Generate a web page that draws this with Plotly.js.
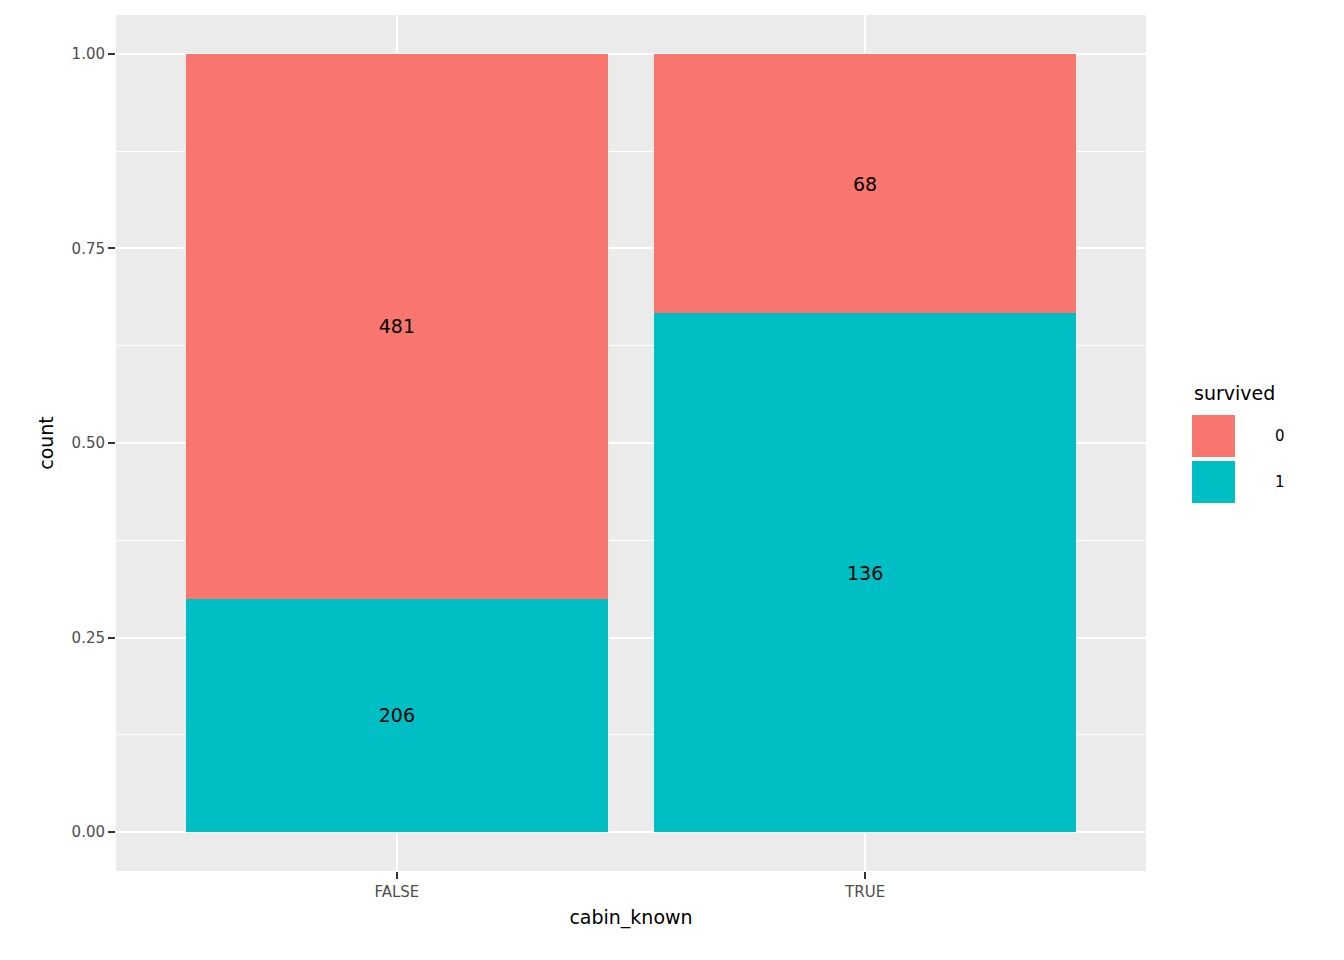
<!DOCTYPE html>
<html>
<head>
<meta charset="utf-8">
<script src="https://cdn.plot.ly/plotly-3.0.1.min.js"></script>
<style>body{margin:0;background:#fff}</style>
</head>
<body>
<div id="myChart" style="width:1344px;height:960px"></div>
<script>
const categories = ['FALSE', 'TRUE'];
const died = [481, 68];
const survived = [206, 136];
const fillColors = {'0': '#F8766D', '1': '#00BFC4'};

const makeTrace = (name, counts) => ({
    x: categories,
    y: counts,
    name: name,
    type: 'bar',
    width: 0.9,
    marker: {color: fillColors[name], line: {width: 0}},
    text: counts.map(String),
    textposition: 'inside',
    insidetextanchor: 'middle',
    textfont: {color: 'black', size: 19},
    hoverinfo: 'skip'
});

// survivors go on the bottom
const data = [makeTrace('1', survived), makeTrace('0', died)];

const layout = {
    barmode: 'stack',
    barnorm: 'fraction',
    showlegend: false,
    paper_bgcolor: 'white',
    plot_bgcolor: '#EBEBEB',
    margin: {l: 116, r: 198, t: 15, b: 89},
    font: {family: 'DejaVu Sans, sans-serif'},
    xaxis: {
        range: [-0.6, 1.6],
        showgrid: true, gridcolor: 'white', gridwidth: 2,
        ticks: 'outside', ticklen: 7, tickcolor: '#333', tickwidth: 1.5,
        tickfont: {size: 15, color: '#4D4D4D'},
        title: {text: 'cabin_known', font: {size: 19, color: 'black'}, standoff: 10},
        zeroline: false
    },
    yaxis: {
        range: [-0.05, 1.05],
        tickvals: [0, 0.25, 0.5, 0.75, 1],
        ticktext: ['0.00', '0.25', '0.50', '0.75', '1.00'],
        showgrid: true, gridcolor: 'white', gridwidth: 2,
        minor: {tickvals: [0.125, 0.375, 0.625, 0.875], showgrid: true, gridcolor: 'white', gridwidth: 1},
        ticks: 'outside', ticklen: 7, tickcolor: '#333', tickwidth: 1.5,
        tickfont: {size: 15, color: '#4D4D4D'},
        title: {text: 'count', font: {size: 19, color: 'black'}, standoff: 12},
        zeroline: false
    },
    shapes: [
        {type: 'rect', xref: 'paper', yref: 'paper', x0: 1.0447, x1: 1.0864, y0: 0.4836, y1: 0.5327,
         fillcolor: fillColors['0'], line: {width: 0}},
        {type: 'rect', xref: 'paper', yref: 'paper', x0: 1.0447, x1: 1.0864, y0: 0.4299, y1: 0.479,
         fillcolor: fillColors['1'], line: {width: 0}}
    ],
    annotations: [
        {xref: 'paper', yref: 'paper', x: 1.0447, y: 0.558, xanchor: 'left', yanchor: 'middle',
         text: 'survived', showarrow: false, font: {size: 19, color: 'black'}},
        {xref: 'paper', yref: 'paper', x: 1.1233, y: 0.508, xanchor: 'left', yanchor: 'middle',
         text: '0', showarrow: false, font: {size: 15, color: 'black'}},
        {xref: 'paper', yref: 'paper', x: 1.1233, y: 0.454, xanchor: 'left', yanchor: 'middle',
         text: '1', showarrow: false, font: {size: 15, color: 'black'}}
    ]
};

Plotly.newPlot('myChart', data, layout, {displayModeBar: false});
</script>
</body>
</html>
